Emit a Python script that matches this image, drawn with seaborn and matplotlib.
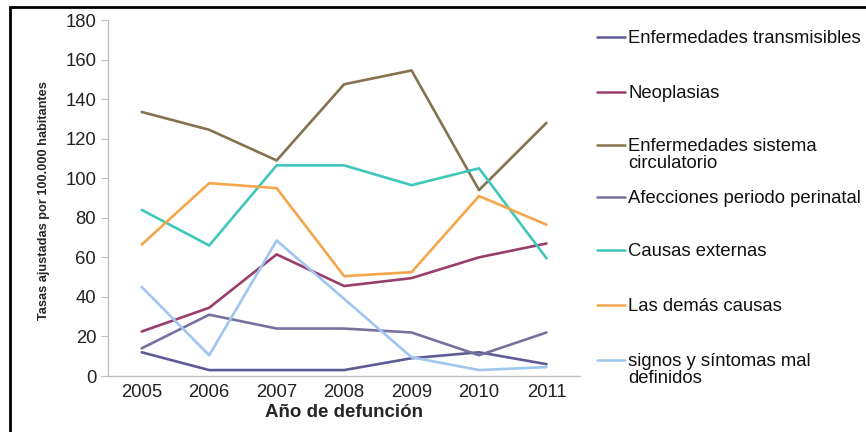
import numpy as np
import pandas as pd
import matplotlib
matplotlib.use("Agg")
import matplotlib.pyplot as plt
from matplotlib.lines import Line2D
from matplotlib.patches import Rectangle
import seaborn as sns

sns.set_style("white")
plt.rcParams['font.family'] = ['Liberation Sans', 'DejaVu Sans']

years = [2005, 2006, 2007, 2008, 2009, 2010, 2011]
causes = ["Enfermedades transmisibles", "Neoplasias", "Enfermedades sistema\ncirculatorio",
          "Afecciones periodo perinatal", "Causas externas", "Las demás causas",
          "signos y síntomas mal\ndefinidos"]
transmisibles = [12, 3, 3, 3, 9, 12, 6]
neoplasias = [22.5, 34.5, 61.5, 45.5, 49.5, 60, 67]
circulatorio = [133.5, 124.5, 109, 147.5, 154.5, 94, 128]
perinatal = [14, 31, 24, 24, 22, 10.5, 22]
externas = [84, 66, 106.5, 106.5, 96.5, 105, 59.5]
demas = [66.5, 97.5, 95, 50.5, 52.5, 91, 76.5]
signos = [45, 10.5, 68.5, 39, 9.5, 3, 4.5]
colors = ["#5E5B96", "#993D6A", "#85724F", "#76729E", "#3EC7BA", "#F5A64C", "#A0C6F0"]

series = [transmisibles, neoplasias, circulatorio, perinatal, externas, demas, signos]
df = pd.DataFrame([(c, y, v) for c, vals in zip(causes, series) for y, v in zip(years, vals)],
                  columns=["causa", "anio", "tasa"])
pal = dict(zip(causes, colors))

fig = plt.figure(figsize=(8.66, 4.32), dpi=100)
ax = fig.add_axes([0.1247, 0.1296, 0.5453, 0.8241])
sns.lineplot(data=df, x="anio", y="tasa", hue="causa", palette=pal, linewidth=1.9,
             legend=False, ax=ax, hue_order=causes)

ax.set_xlim(2004.5, 2011.5)
ax.set_ylim(0, 180)
ax.set_yticks(range(0, 181, 20))
ax.set_xticks(years)
ax.set_xticks(np.arange(2004.5, 2011.6, 1), minor=True)
ax.tick_params(axis='x', which='major', length=0, labelsize=13.3, colors='#222222', pad=6)
ax.tick_params(axis='x', which='minor', length=5, color='#BFBFBF', direction='out')
ax.tick_params(axis='y', length=5, color='#BFBFBF', direction='out', labelsize=13.3,
               left=True)
for t in ax.get_yticklabels():
    t.set_color('#222222')
for s in ['top', 'right']:
    ax.spines[s].set_visible(False)
for s in ['left', 'bottom']:
    ax.spines[s].set_color('#BFBFBF')
    ax.spines[s].set_linewidth(1)

ax.set_xlabel("Año de defunción", fontsize=13.5, fontweight='bold', labelpad=2)
ax.set_ylabel("Tasas ajustadas por 100.000 habitantes", fontsize=9.2, fontweight='bold')
ax.yaxis.set_label_coords(-0.123, 0.494)

# legend drawn at the right
ys = [37, 92, 145, 197, 250, 305, 360]
for lab, col, yp in zip(causes, colors, ys):
    yf = 1 - yp / 432
    fig.add_artist(Line2D([597 / 866, 625 / 866], [yf, yf], color=col, lw=1.8,
                          transform=fig.transFigure))
    fig.text(628 / 866, 1 - (yp - 7) / 432, lab, fontsize=13.3, va='top', ha='left',
             color='#111111', linespacing=1.0)

fig.add_artist(Rectangle((10 / 866, -0.05), 1.0, 1.05 - 7 / 432, transform=fig.transFigure,
                         fill=False, edgecolor='black', lw=2))

fig.savefig("out.png", dpi=100)
